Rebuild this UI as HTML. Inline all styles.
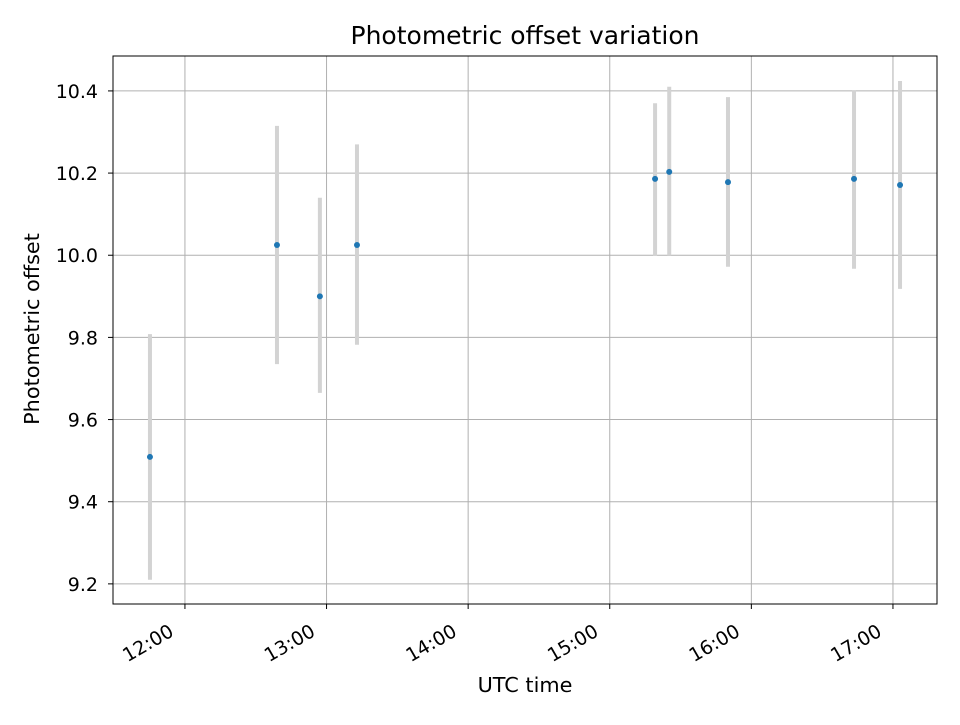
<!DOCTYPE html>
<html><head><meta charset="utf-8"><style>
html,body{margin:0;padding:0;background:#fff;}
svg text{font-family:"DejaVu Sans","Liberation Sans",sans-serif;fill:#000;}
</style></head><body>
<svg id="chart" width="960" height="720" xmlns="http://www.w3.org/2000/svg"></svg>
<script>
// data (time in hours UTC)
const times = [11.753, 12.65, 12.953, 13.215, 15.32, 15.42, 15.835, 16.725, 17.05];
const offsets = [9.509, 10.025, 9.90, 10.025, 10.186, 10.203, 10.178, 10.186, 10.171];
const errLow = [9.21, 9.735, 9.665, 9.782, 9.998, 10.0, 9.972, 9.967, 9.918];
const errHigh = [9.808, 10.315, 10.14, 10.27, 10.37, 10.41, 10.385, 10.402, 10.424];
const xTicks = [12, 13, 14, 15, 16, 17];
const xTickLabels = ["12:00", "13:00", "14:00", "15:00", "16:00", "17:00"];
const yTicks = [9.2, 9.4, 9.6, 9.8, 10.0, 10.2, 10.4];
const yTickLabels = ["9.2", "9.4", "9.6", "9.8", "10.0", "10.2", "10.4"];

const L=113,R=937,T=56,B=604;
const xMin=11.492,xMax=17.311,yMin=9.151,yMax=10.485;
const xs=v=>L+(v-xMin)/(xMax-xMin)*(R-L);
const ys=v=>B-(v-yMin)/(yMax-yMin)*(B-T);
const svg=document.getElementById('chart');
const NS='http://www.w3.org/2000/svg';
function mk(tag,attrs,parent){const e=document.createElementNS(NS,tag);for(const k in attrs)e.setAttribute(k,attrs[k]);(parent||svg).appendChild(e);return e;}

xTicks.forEach((t,i)=>{
  const x=xs(t);
  const g=mk('line',{x1:x,x2:x,y1:T,y2:B,stroke:'#b0b0b0','stroke-width':1});
  
  
  const tk=mk('line',{x1:x,x2:x,y1:B,y2:B+5,stroke:'#000','stroke-width':1});
  
  
  const ax=x-10, ay=B+31;
  const lb=mk('text',{x:ax,y:ay,'font-size':'19','text-anchor':'end',transform:`rotate(-30 ${ax} ${ay})`});
  lb.textContent=xTickLabels[i];
  
  
});
yTicks.forEach((t,i)=>{
  const y=ys(t);
  const g=mk('line',{x1:L,x2:R,y1:y,y2:y,stroke:'#b0b0b0','stroke-width':1});
  
  
  const tk=mk('line',{x1:L-5,x2:L,y1:y,y2:y,stroke:'#000','stroke-width':1});
  
  
  const lb=mk('text',{x:L-15,y:y+7,'font-size':'19','text-anchor':'end'});
  lb.textContent=yTickLabels[i];
  
  
});

times.forEach((t,i)=>{
  const x=xs(t);
  const e=mk('line',{x1:x,x2:x,y1:ys(errLow[i]),y2:ys(errHigh[i]),stroke:'#d3d3d3','stroke-width':4});
  
  
});
times.forEach((t,i)=>{
  const p=mk('circle',{cx:xs(t),cy:ys(offsets[i]),r:3,fill:'#1f77b4'});
  
  
});

const frame=mk('rect',{x:L,y:T,width:R-L,height:B-T,fill:'none',stroke:'#000','stroke-width':1});



const title=mk('text',{x:(L+R)/2,y:44,'font-size':'25','text-anchor':'middle'});
title.textContent='Photometric offset variation';



const xl=mk('text',{x:(L+R)/2,y:692,'font-size':'20.8','text-anchor':'middle'});
xl.textContent='UTC time';



const yl=mk('text',{x:39,y:(T+B)/2-1,'font-size':'20.8','text-anchor':'middle',transform:`rotate(-90 39 ${(T+B)/2-1})`});
yl.textContent='Photometric offset';


</script>
</body></html>
